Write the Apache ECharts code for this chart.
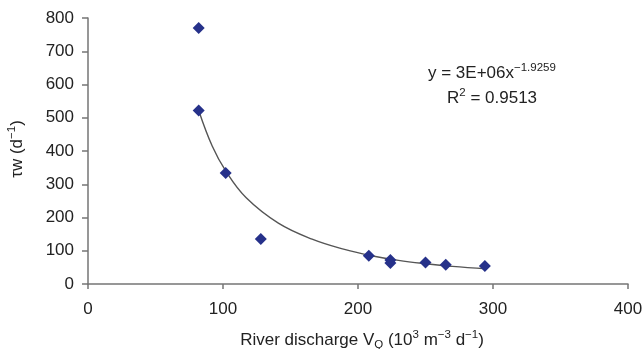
<!DOCTYPE html>
<html>
<head>
<meta charset="utf-8">
<script src="https://cdn.jsdelivr.net/npm/echarts@6/dist/echarts.min.js"></script>
<style>
  html, body { margin: 0; padding: 0; background: #fff; }
  #chart { width: 642px; height: 349px; }
</style>
</head>
<body>
<div id="chart"></div>
<script>
// measured points (discharge, residence time)
const dischargeX = [82, 82, 102, 128, 208, 224, 224, 250, 265, 294];
const tauY = [770, 522, 334, 135, 85, 72, 63, 65, 58, 54];

// power trend line
const trendX = [82, 92, 102, 117, 141, 166, 190, 210, 230, 250, 270, 295];
const trendY = [522, 415, 340, 260, 183, 135, 104, 85, 71, 61, 53, 46];

const xTicks = [0, 100, 200, 300, 400];
const yTicks = [0, 100, 200, 300, 400, 500, 600, 700, 800];

const font = 'Liberation Sans, Arial, sans-serif';
const axisColor = '#757575';
const txt = '#222';

const rich = {
  n: { fontSize: 17, fontFamily: font, color: txt, fill: txt, lineHeight: 22 },
  sup: { fontSize: 11.5, fontFamily: font, color: txt, fill: txt, verticalAlign: 'top', lineHeight: 22, padding: [0, 0, 7, 0] },
  sub: { fontSize: 11.5, fontFamily: font, color: txt, fill: txt, verticalAlign: 'bottom', lineHeight: 22, padding: [7, 0, 0, 0] }
};

const option = {
  animation: false,
  grid: { left: 88, right: 14, top: 18, bottom: 65, containLabel: false, outerBoundsMode: 'none' },
  xAxis: {
    type: 'value',
    min: xTicks[0],
    max: xTicks[xTicks.length - 1],
    interval: 100,
    splitLine: { show: false },
    axisLine: { lineStyle: { color: axisColor, width: 1.5 } },
    axisTick: { show: true, length: 5, lineStyle: { color: axisColor, width: 1.5 } },
    axisLabel: { color: txt, fontSize: 17, fontFamily: font, margin: 17 },
    name: '{n|River discharge V}{sub|Q}{n| (10}{sup|3}{n| m}{sup|−3}{n| d}{sup|−1}{n|)}',
    nameLocation: 'middle',
    nameGap: 45,
    nameTextStyle: { color: txt, fontFamily: font, rich: rich, padding: [0, 0, 0, 8] }
  },
  yAxis: {
    type: 'value',
    min: yTicks[0],
    max: yTicks[yTicks.length - 1],
    interval: 100,
    splitLine: { show: false },
    axisLine: { show: true, lineStyle: { color: axisColor, width: 1.5 } },
    axisTick: { show: true, length: 6, lineStyle: { color: axisColor, width: 1.5 } },
    axisLabel: { color: txt, fontSize: 17, fontFamily: font, margin: 14 },
    name: '{n|τw (d}{sup|−1}{n|)}',
    nameLocation: 'middle',
    nameGap: 60,
    nameRotate: 90,
    nameTextStyle: { color: txt, fontFamily: font, rich: rich, padding: [0, 0, 0, 4] }
  },
  graphic: [
    {
      type: 'text',
      left: 428,
      top: 62,
      style: { text: '{n|y = 3E+06x}{sup|−1.9259}', rich: rich }
    },
    {
      type: 'text',
      left: 447,
      top: 87,
      style: { text: '{n|R}{sup|2}{n| = 0.9513}', rich: rich }
    }
  ],
  series: [
    {
      name: 'trend',
      type: 'line',
      data: trendX.map((x, i) => [x, trendY[i]]),
      smooth: 0.4,
      symbol: 'none',
      lineStyle: { color: '#555', width: 1.4 },
      z: 2
    },
    {
      name: 'data',
      type: 'scatter',
      data: dischargeX.map((x, i) => [x, tauY[i]]),
      symbol: 'diamond',
      symbolSize: [12, 12],
      itemStyle: { color: '#26318a', opacity: 1 },
      z: 3
    }
  ]
};

const myChart = echarts.init(document.getElementById('chart'));
myChart.setOption(option);
</script>
</body>
</html>
